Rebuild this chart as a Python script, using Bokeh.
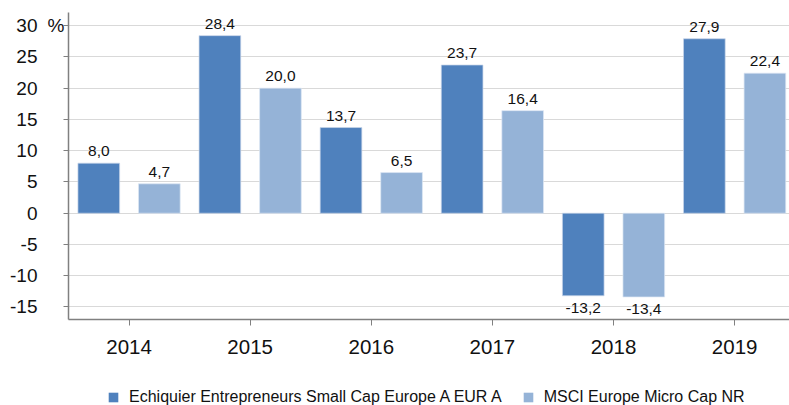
from bokeh.plotting import figure
from bokeh.layouts import column
from bokeh.models import (ColumnDataSource, FixedTicker, Range1d, Legend, LegendItem,
                          LinearAxis)
from bokeh.embed import file_html
from bokeh.resources import INLINE
from bokeh.core.properties import value

years = ["2014", "2015", "2016", "2017", "2018", "2019"]
fund = [8.0, 28.4, 13.7, 23.7, -13.2, 27.9]
index = [4.7, 20.0, 6.5, 16.4, -13.4, 22.4]
series_names = ["Echiquier Entrepreneurs Small Cap Europe A EUR A", "MSCI Europe Micro Cap NR"]
y_ticks = [-15, -10, -5, 0, 5, 10, 15, 20, 25, 30]

DARK = "#4F81BD"
LIGHT = "#95B3D7"
FONT = "Liberation Sans"
TXT = "#111111"
AX = "#808080"

xs = list(range(len(years)))
off = 0.25
bw = 0.344

def fmt(v):
    return ("%.1f" % v).replace(".", ",")

def make_src(vals, shift):
    return ColumnDataSource(dict(
        x=[i + shift for i in xs],
        top=vals,
        lbl=[fmt(v) for v in vals],
        ly=vals,
        yo=[-12 if v >= 0 else 12 for v in vals],
    ))

s1 = make_src(fund, -off)
s2 = make_src(index, off)

MAIN_H = 373
p = figure(width=789, height=MAIN_H, output_backend="svg", toolbar_location=None,
           x_range=Range1d(-0.5, 5.453), y_range=Range1d(-17.0, 32.1),
           min_border_left=68, min_border_right=0, min_border_top=12,
           min_border_bottom=MAIN_H - 319)
p.outline_line_color = None
p.background_fill_color = "white"
p.border_fill_color = "white"

r1 = p.vbar(x="x", top="top", bottom=0, width=bw, source=s1, fill_color=DARK,
            line_color="#C9D6EA", line_width=0.7)
r2 = p.vbar(x="x", top="top", bottom=0, width=bw, source=s2, fill_color=LIGHT,
            line_color="#DDE7F3", line_width=0.7)

for s in (s1, s2):
    p.text(x="x", y="ly", text="lbl", source=s, y_offset="yo", text_align="center",
           text_baseline="middle", text_font=value(FONT), text_font_size="15.5px",
           text_color=TXT)

# x axis
p.xaxis.ticker = FixedTicker(ticks=xs)
p.xaxis.major_label_overrides = {i: y for i, y in enumerate(years)}
p.xaxis.major_label_text_font = FONT
p.xaxis.major_label_text_font_size = "20.5px"
p.xaxis.major_label_text_color = TXT
p.xaxis.major_label_standoff = 14
p.xaxis.major_tick_out = 6
p.xaxis.major_tick_in = 0
p.xaxis.minor_tick_line_color = None
p.xaxis.axis_line_color = AX
p.xaxis.axis_line_width = 1.5
p.xaxis.major_tick_line_color = AX

# inner y axis: line, ticks and the "%" unit at the top tick
p.yaxis.ticker = FixedTicker(ticks=y_ticks)
p.yaxis.major_label_overrides = {t: ("%" if t == 30 else "") for t in y_ticks}
p.yaxis.major_label_text_font = FONT
p.yaxis.major_label_text_font_size = "19px"
p.yaxis.major_label_text_color = TXT
p.yaxis.major_label_standoff = -1
p.yaxis.major_tick_out = 5
p.yaxis.major_tick_in = 0
p.yaxis.minor_tick_line_color = None
p.yaxis.axis_line_color = AX
p.yaxis.axis_line_width = 1.5
p.yaxis.major_tick_line_color = AX

# outer y axis: numeric labels only
num_axis = LinearAxis(ticker=FixedTicker(ticks=y_ticks),
                      major_label_overrides={t: str(t) for t in y_ticks},
                      major_label_text_font=FONT, major_label_text_font_size="19px",
                      major_label_text_color=TXT, major_label_standoff=7,
                      major_tick_out=0, major_tick_in=0, major_tick_line_color=None,
                      minor_tick_line_color=None, axis_line_color=None)
p.add_layout(num_axis, "left")

p.xgrid.grid_line_color = None
p.ygrid.grid_line_color = "#D9D9D9"
p.ygrid.grid_line_width = 1.2

# legend strip (its own small figure, frame aligned with the main one)
LEG_H = 405 - MAIN_H
q = figure(width=789, height=LEG_H, output_backend="svg", toolbar_location=None,
           x_range=Range1d(0, 1), y_range=Range1d(0, 1),
           x_axis_type=None, y_axis_type=None,
           min_border_left=68, min_border_right=0, min_border_top=0, min_border_bottom=0)
q.grid.visible = False
q.outline_line_color = None
q.border_fill_color = "white"
q.background_fill_color = "white"
# legend swatch carriers: zero-height, outline-free, so nothing shows in the strip
e1 = q.vbar(x=[0.5], top=[0], bottom=0, width=0.1, fill_color=DARK, line_alpha=0)
e2 = q.vbar(x=[0.5], top=[0], bottom=0, width=0.1, fill_color=LIGHT, line_alpha=0)
legend = Legend(items=[LegendItem(label=series_names[0], renderers=[e1]),
                       LegendItem(label=series_names[1], renderers=[e2])],
                orientation="horizontal", location=(39, -1),
                glyph_width=12, glyph_height=12, label_height=12,
                label_standoff=10, spacing=20, padding=0, margin=0,
                border_line_color=None, background_fill_alpha=0,
                label_text_font=FONT, label_text_font_size="16px", label_text_color=TXT)
q.add_layout(legend, "center")

layout = column(p, q, spacing=0)
open("out.html", "w").write(file_html(layout, INLINE))
